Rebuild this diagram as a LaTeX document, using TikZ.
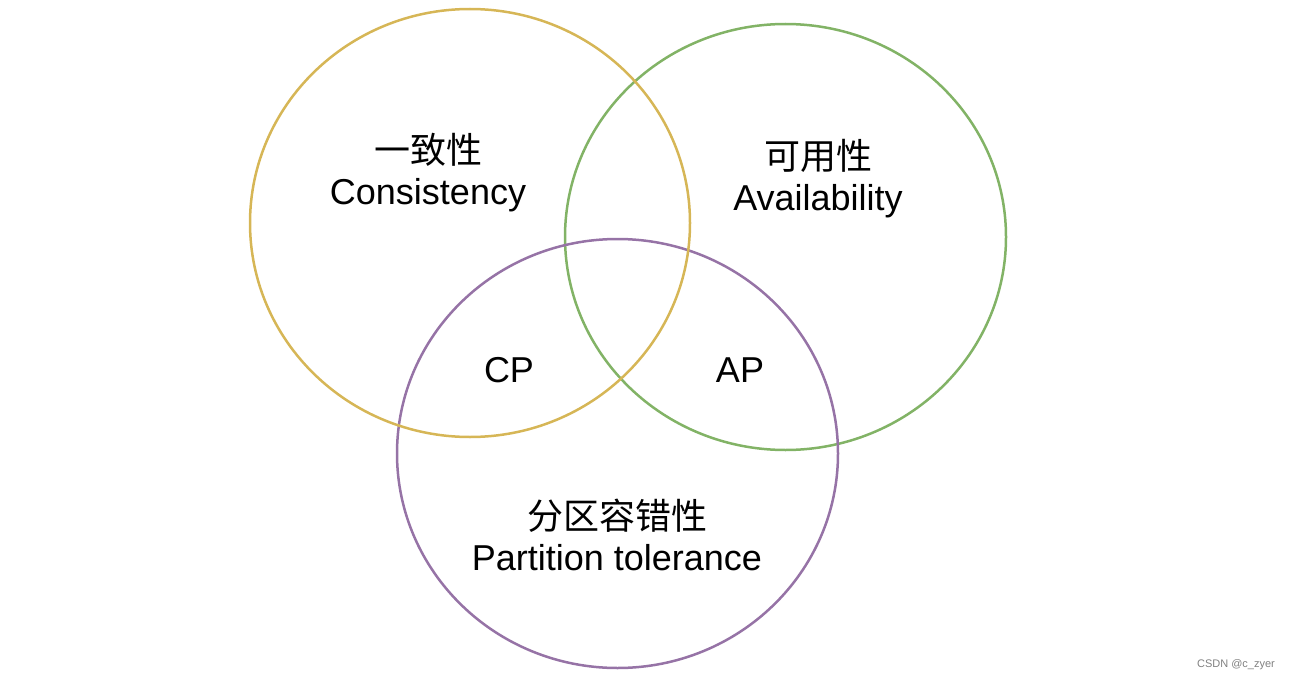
\documentclass[tikz,border=0pt]{standalone}
\usepackage{fontspec}
\setmainfont{Liberation Sans}
\newfontfamily\cjk{Noto Sans CJK SC}
\definecolor{consclr}{HTML}{D6B656}
\definecolor{availclr}{HTML}{82B366}
\definecolor{partclr}{HTML}{9673A6}
\tikzset{
  ring/.style={line width=2.5pt},
  label/.style={align=center, font=\fontsize{36}{41}\selectfont, inner sep=0pt}
}
\begin{document}
\begin{tikzpicture}[x=1pt, y=-1pt]
	\useasboundingbox (0,0) rectangle (1290,682);

		% centres of the three circles
		\coordinate (C) at (470,223);
		\coordinate (A) at (785.5,237);
		\coordinate (P) at (617.5,453.5);

		% circles
		\draw[ring, availclr] (A) ellipse (220.5 and 213);
		\draw[ring, partclr]  (P) ellipse (220.5 and 214.5);
		\draw[ring, consclr]  (C) ellipse (220 and 214);

		% texts
		\node[label] (cons)  at (428,173) {{\cjk 一致性}\\Consistency};
		\node[label] (avail) at (818,179) {{\cjk 可用性}\\Availability};
		\node[label] (part)  at (617,535) {{\cjk 分区容错性}\\Partition tolerance};
		\node[label] (cp) at (509,370) {CP};
		\node[label] (ap) at (740,370) {AP};

		\node[font=\fontsize{11}{13}\selectfont, text=gray, inner sep=0pt] (mark) at (1236,665) {CSDN @c\_zyer};

\end{tikzpicture}
\end{document}
